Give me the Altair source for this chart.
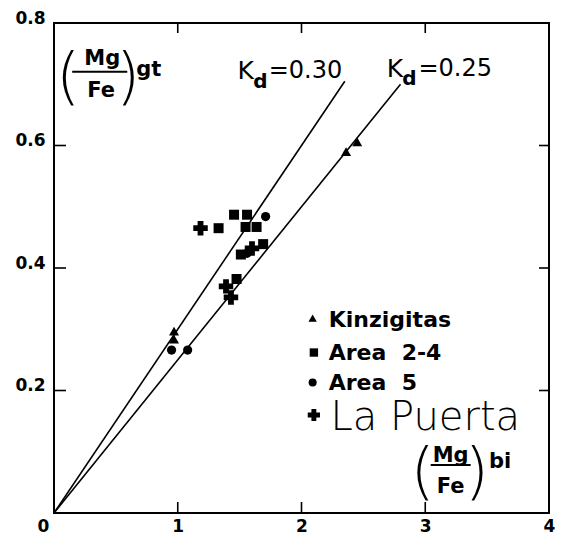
import altair as alt
import pandas as pd

# Mg/Fe ratio in biotite (x) against Mg/Fe ratio in garnet (y)
kinz_x = [2.36, 2.45, 0.97, 0.97]
kinz_y = [0.590, 0.606, 0.297, 0.284]

area24_x = [1.33, 1.455, 1.56, 1.548, 1.637, 1.51, 1.69, 1.475]
area24_y = [0.465, 0.487, 0.487, 0.467, 0.467, 0.422, 0.439, 0.382]

area5_x = [1.71, 1.56, 0.95, 1.08]
area5_y = [0.484, 0.424, 0.266, 0.266]

puerta_x = [1.184, 1.60, 1.39, 1.43]
puerta_y = [0.465, 0.432, 0.370, 0.352]

# distribution coefficient reference lines y = Kd * x
kd_values = [0.30, 0.25]
kd_end_x = [2.35, 2.80]

# axis tick positions
x_ticks = [0, 1, 2, 3, 4]
y_ticks = [0.2, 0.4, 0.6, 0.8]
inner_x_ticks = [1, 2, 3]
inner_y_ticks = [0.2, 0.4, 0.6]

W, H = 495, 490
FONT = "DejaVu Sans"

XS = alt.Scale(domain=[0, 4], nice=False, zero=False)
YS = alt.Scale(domain=[0, 0.8], nice=False, zero=False)

X_AXIS = alt.Axis(
    values=x_ticks, title=None, ticks=False, domain=False, grid=False,
    labelFont=FONT, labelFontWeight="bold", labelFontSize=17,
    labelColor="black", labelPadding=5, labelFlush=False, labelOverlap=False,
    labelOffset={"condition": {"test": "datum.value === 0", "value": -11}, "value": 0},
)
Y_AXIS = alt.Axis(
    values=y_ticks, title=None, ticks=False, domain=False, grid=False, format=".1f",
    labelFont=FONT, labelFontWeight="bold", labelFontSize=17,
    labelColor="black", labelPadding=9, labelBaseline="alphabetic",
    labelFlush=False, labelOverlap=False,
)


def xq(field="x"):
    return alt.X(f"{field}:Q", scale=XS, axis=X_AXIS)


def yq(field="y"):
    return alt.Y(f"{field}:Q", scale=YS, axis=Y_AXIS)


# Kd lines
kd_rows = []
for kd, xe in zip(kd_values, kd_end_x):
    kd_rows.append({"kd": kd, "x": 0.0, "y": 0.0})
    kd_rows.append({"kd": kd, "x": xe, "y": kd * xe})
kd_df = pd.DataFrame(kd_rows)

lines = alt.Chart(kd_df).mark_line(color="black", strokeWidth=1.6).encode(
    x=xq(), y=yq(), detail="kd:N"
)


def points(xs, ys, shape, size):
    df = pd.DataFrame({"x": xs, "y": ys})
    return alt.Chart(df).mark_point(
        shape=shape, filled=True, color="black", opacity=1, size=size
    ).encode(x=xq(), y=yq())


pts = (
    points(kinz_x, kinz_y, "triangle-up", 100)
    + points(area24_x, area24_y, "square", 100)
    + points(area5_x, area5_y, "circle", 85)
    + points(puerta_x, puerta_y, "cross", 210)
)

# inward ticks on all four sides of the frame
bottom_ticks = alt.Chart(pd.DataFrame({"x": inner_x_ticks})).mark_rule(
    color="black", strokeWidth=1.6
).encode(x=xq(), y=alt.value(H), y2=alt.value(H - 11))
top_ticks = alt.Chart(pd.DataFrame({"x": inner_x_ticks})).mark_rule(
    color="black", strokeWidth=1.6
).encode(x=xq(), y=alt.value(0), y2=alt.value(10))
left_ticks = alt.Chart(pd.DataFrame({"y": inner_y_ticks})).mark_rule(
    color="black", strokeWidth=1.6
).encode(y=yq(), x=alt.value(0), x2=alt.value(12))
right_ticks = alt.Chart(pd.DataFrame({"y": inner_y_ticks})).mark_rule(
    color="black", strokeWidth=1.6
).encode(y=yq(), x=alt.value(W), x2=alt.value(W - 10))


def label(xs, ys, texts, size, weight="normal", align="left", baseline="alphabetic", font=FONT):
    df = pd.DataFrame({"x": xs, "y": ys, "t": texts})
    return alt.Chart(df).mark_text(
        font=font, fontSize=size, fontWeight=weight, align=align,
        baseline=baseline, color="black",
    ).encode(x=xq(), y=yq(), text="t:N")


# Kd labels
kd_text = (
    label([1.483, 2.688], [0.708, 0.712], ["K", "K"], 25)
    + label([1.61, 2.815], [0.694, 0.698], ["d", "d"], 20, weight="bold")
    + label([1.735, 2.945], [0.711, 0.714], ["=0.30", "=0.25"], 24)
)

# (Mg/Fe)gt and (Mg/Fe)bi axis titles
frac_bars = alt.Chart(pd.DataFrame({
    "x": [0.147, 3.044], "x2": [0.592, 3.367], "y": [0.7205, 0.0784]
})).mark_rule(color="black", strokeWidth=2).encode(x=xq(), x2="x2:Q", y=yq())

titles = (
    label([0.39, 3.205], [0.731, 0.0833], ["Mg", "Mg"], 21, weight="bold", align="center")
    + label([0.38, 3.205], [0.680, 0.0327], ["Fe", "Fe"], 21, weight="bold", align="center")
    + label([0.113, 2.979], [0.710, 0.0653], ["(", "("], 62, weight=200, align="center", baseline="middle")
    + label([0.598, 3.416], [0.710, 0.0653], [")", ")"], 62, weight=200, align="center", baseline="middle")
    + label([0.665, 3.515], [0.7135, 0.0735], ["gt", "bi"], 21, weight="bold")
)

# hand-made legend
legend_marks = (
    points([2.09], [0.318], "triangle-up", 70)
    + points([2.10], [0.262], "square", 70)
    + points([2.09], [0.213], "circle", 65)
    + points([2.10], [0.160], "cross", 150)
)
legend_text = (
    label([2.22, 2.22, 2.22], [0.304, 0.250, 0.201],
          ["Kinzigitas", "Area\u00a0\u00a02-4", "Area\u00a0\u00a05"], 22, weight="bold")
    + label([2.235], [0.1355], ["La Puerta"], 40, weight=200)
)

chart = alt.layer(
    lines, pts, bottom_ticks, top_ticks, left_ticks, right_ticks,
    kd_text, frac_bars, titles, legend_marks, legend_text,
).properties(
    width=W, height=H,
    autosize=alt.AutoSizeParams(type="none"),
    padding={"left": 54, "top": 23, "right": 15, "bottom": 26},
    background="white",
).configure_view(stroke="black", strokeWidth=2)

chart.save("out.html", embed_options={"renderer": "svg", "actions": False})
